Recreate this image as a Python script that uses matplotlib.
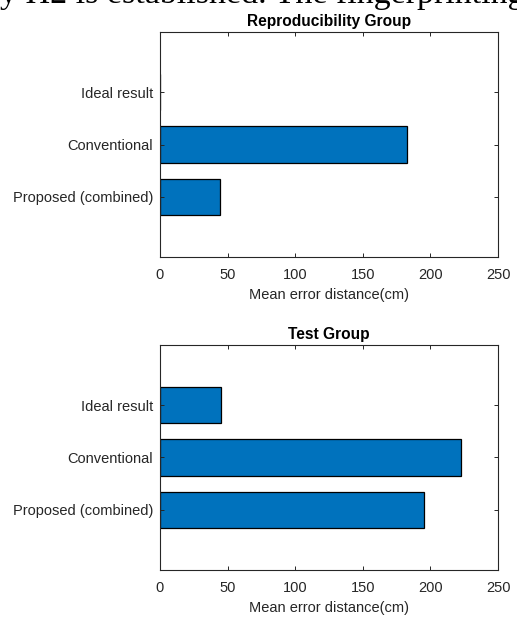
import matplotlib.pyplot as plt

# categories, listed top to bottom
categories = ["Ideal result", "Conventional", "Proposed (combined)"]

# mean error distance (cm)
repro_values = [0.0, 182.5, 44.6]
test_values = [45.1, 222.4, 195.3]

x_ticks = [0, 50, 100, 150, 200, 250]

bar_color = "#0072BD"
axis_color = "#262626"

plt.rcParams["font.family"] = ["Liberation Sans", "DejaVu Sans"]

fig = plt.figure(figsize=(5.17, 6.18), dpi=100)

# cut-off line of body text from the page above the figure
fig.text(0.0, 1.0 - 3 / 618, "y \u03a02 is established. The fingerprinting",
         family=["Liberation Serif", "DejaVu Serif"], fontsize=24.5,
         ha="left", va="baseline", color="black")


def draw_panel(ax, values, title):
    y = [3, 2, 1]
    ax.barh(y, values, height=0.7, color=bar_color, edgecolor="black",
            linewidth=0.9)
    ax.set_xlim(0, 250)
    ax.set_ylim(1 - 1.143, 3 + 1.143)
    ax.set_xticks(x_ticks)
    ax.set_yticks(y)
    ax.set_yticklabels(categories)
    ax.set_xlabel("Mean error distance(cm)", fontsize=10.5, color=axis_color,
                  labelpad=4)
    ax.set_title(title, fontsize=11.2, fontweight="bold", pad=4.5)
    ax.tick_params(direction="in", length=3, width=0.7, top=True, right=True,
                   labelsize=10.5, colors=axis_color)
    ax.tick_params(axis="x", pad=8)
    ax.tick_params(axis="y", pad=5)
    for s in ax.spines.values():
        s.set_color(axis_color)
        s.set_linewidth(0.8)


ax1 = fig.add_axes([160 / 517, (618 - 257) / 618, 338 / 517, 225 / 618])
draw_panel(ax1, repro_values, "Reproducibility Group")

ax2 = fig.add_axes([160 / 517, (618 - 570) / 618, 338 / 517, 225 / 618])
draw_panel(ax2, test_values, "Test Group")

fig.savefig("out.png", dpi=100)
